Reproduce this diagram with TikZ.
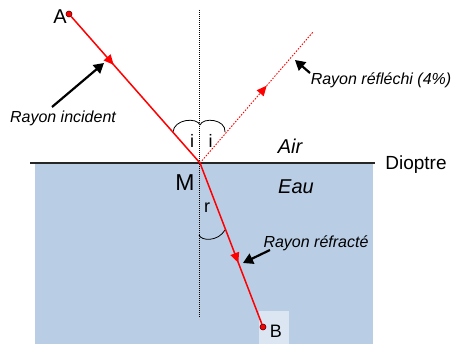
\documentclass[tikz,border=0pt]{standalone}
\usepackage{fontspec}
\setmainfont{Liberation Sans}
\usetikzlibrary{arrows.meta,decorations.markings}
\definecolor{water}{HTML}{B9CDE5}
\definecolor{bbox}{HTML}{DCE6F2}
\definecolor{ray}{HTML}{FF0000}
\tikzset{
  x=1pt,y=-1pt,
  lbl/.style={inner sep=0pt,anchor=base,font=\fontsize{16}{16}\selectfont\itshape},
  big/.style={inner sep=0pt,anchor=base},
  rayline/.style={draw=ray,line width=1.5pt},
  midarrow/.style={postaction={decorate},decoration={markings,
     mark=at position #1 with {\arrow[ray,solid]{Triangle[length=10pt,width=9pt]}}}},
  pointer/.style={draw=black,line width=2.2pt,-{Triangle[length=10pt,width=11pt]}},
  anglearc/.style={draw=black,line width=0.8pt},
  pt/.style={circle,fill=ray,draw=black!70!red,line width=0.6pt,inner sep=0pt,minimum size=6pt}
}
\begin{document}
\begin{tikzpicture}
\useasboundingbox (0,0) rectangle (459,344);
% water
\fill[water] (35,163) rectangle (373,344);
\fill[bbox] (259,311) rectangle (289,344);
% dioptre line
\draw[line width=2pt,black!85] (30,163) -- (375,163);
% coordinates
\coordinate (M) at (200,163);
\node[pt] (A) at (69,14) {};
\node[pt] (B) at (263,327) {};
\coordinate (R) at (313,32);
\coordinate (Ntop) at (199.5,10);
\coordinate (Nbot) at (199.5,318);
% normal
\draw[black,line width=1.2pt,dash pattern=on 1pt off 1pt] (Ntop) -- (Nbot);
% angle arcs
\draw[anglearc] (173,132) .. controls (174,119) and (197,117) .. (200,125);
\draw[anglearc] (200,125) .. controls (203,117) and (226,119) .. (225,132);
\draw[anglearc] (199,235) .. controls (201,241) and (218,242) .. (225,230);
% rays
\draw[rayline,midarrow=0.33] (A) -- (M);
\draw[rayline,midarrow=0.62] (M) -- (B);
\draw[draw=ray,line width=0.9pt,dash pattern=on 1.5pt off 1.5pt,midarrow=0.59] (M) -- (R);
% labels
\node[big,font=\fontsize{20}{20}\selectfont] (lA) at (60,24) {A};
\node[big,font=\fontsize{18}{18}\selectfont] (lB) at (276,338) {B};
\node[big,font=\fontsize{23}{23}\selectfont] (lM) at (185,191) {M};
\node[big,font=\fontsize{18}{18}\selectfont] (li1) at (192,148) {i};
\node[big,font=\fontsize{18}{18}\selectfont] (li2) at (210.5,148) {i};
\node[big,font=\fontsize{18}{18}\selectfont] (lr) at (207,213) {r};
\node[big,font=\fontsize{20}{20}\selectfont\itshape] (air) at (290,154) {Air};
\node[big,font=\fontsize{20}{20}\selectfont\itshape] (eau) at (296,194) {Eau};
\node[big,font=\fontsize{19}{19}\selectfont] (diop) at (416,170) {Dioptre};
\node[lbl] (inc) at (63,123) {Rayon incident};
\node[lbl] (refl) at (381,85) {Rayon réfléchi (4\%)};
\node[lbl] (refr) at (316,248) {Rayon réfracté};
% pointers
\coordinate (pinc) at (104,63);
\coordinate (prefl) at (295,60);
\coordinate (prefr) at (243,263);
\draw[pointer] (52,107) -- (pinc);
\draw[pointer] (310,73) -- (prefl);
\draw[pointer] (270,250) -- (prefr);
\end{tikzpicture}
\end{document}
